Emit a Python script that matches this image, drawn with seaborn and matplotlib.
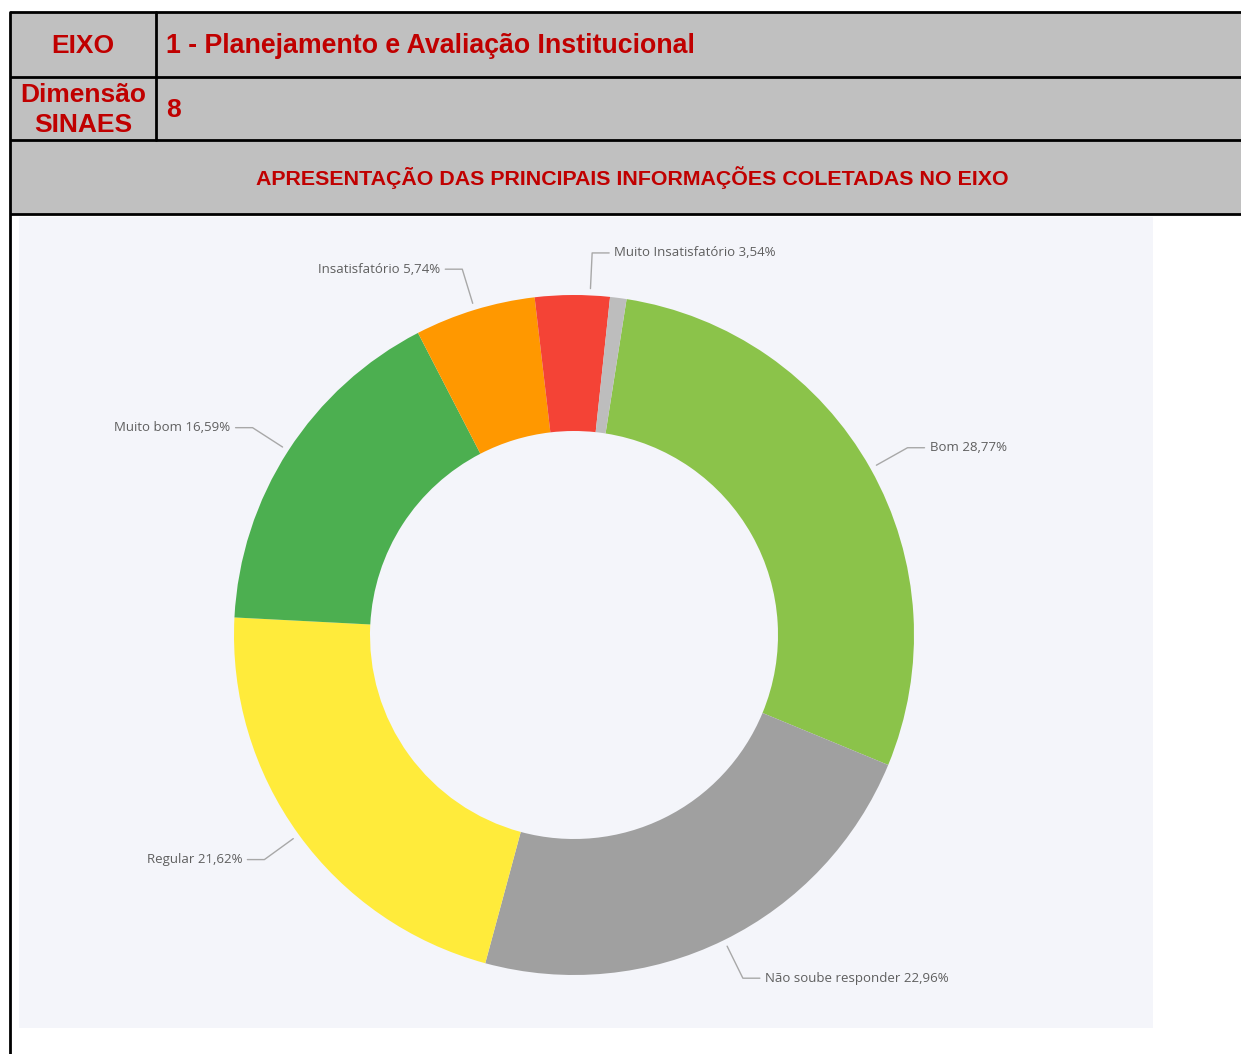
import numpy as np
import matplotlib
matplotlib.use("Agg")
import matplotlib.pyplot as plt
from matplotlib.patches import Rectangle
import seaborn as sns

# ---- data ----
categories = ["Bom", "Não soube responder", "Regular", "Muito bom",
              "Insatisfatório", "Muito Insatisfatório", "Outros"]
values = [28.77, 22.96, 21.62, 16.59, 5.74, 3.54, 0.78]
show_label = [True, True, True, True, True, True, False]
colors = ["#8BC34A", "#A0A0A0", "#FFEB3B", "#4CAF50", "#FF9800", "#F44336", "#BDBDBD"]

header_eixo = "EIXO"
header_eixo_val = "1 - Planejamento e Avaliação Institucional"
header_dim = "Dimensão\nSINAES"
header_dim_val = "8"
header_title = "APRESENTAÇÃO DAS PRINCIPAIS INFORMAÇÕES COLETADAS NO EIXO"

sns.set_theme(style="white")
plt.rcParams['font.family'] = ['Liberation Sans', 'DejaVu Sans']

W, H = 1241, 1054
fig = plt.figure(figsize=(W / 100, H / 100), dpi=100)
fig.patch.set_facecolor("white")

# background layout axes in pixel coordinates
bg = fig.add_axes([0, 0, 1, 1])
bg.set_xlim(0, W)
bg.set_ylim(H, 0)
bg.axis("off")

gray = "#C0C0C0"
red = "#C00000"
bg.add_patch(Rectangle((10, 12), W, 202, facecolor=gray, edgecolor="none"))
# chart panel
px0, px1, py0, py1 = 19, 1153, 217, 1028
bg.add_patch(Rectangle((px0, py0), px1 - px0, py1 - py0, facecolor="#F4F5FA",
                       edgecolor="none"))
lw = 2.0
for y in (12, 77, 140, 214):
    bg.plot([10, W], [y, y], color="black", lw=lw, solid_capstyle="butt")
bg.plot([10, 10], [12, H], color="black", lw=lw)
bg.plot([156, 156], [12, 140], color="black", lw=lw)

bg.text(83, 46, header_eixo, ha="center", va="center", color=red,
        fontsize=19, fontweight="bold")
bg.text(166, 46, header_eixo_val, ha="left", va="center", color=red,
        fontsize=19.3, fontweight="bold")
bg.text(83, 110, header_dim, ha="center", va="center", color=red,
        fontsize=19, fontweight="bold", linespacing=1.27)
bg.text(166, 110, header_dim_val, ha="left", va="center", color=red,
        fontsize=19, fontweight="bold")
bg.text(632, 178, header_title, ha="center", va="center", color=red,
        fontsize=15.4, fontweight="bold")

# ---- donut chart ----
R = 340.0
cx, cy = 574, 635
ax = fig.add_axes([px0 / W, 1 - py1 / H, (px1 - px0) / W, (py1 - py0) / H])
start = 90 - 8.9
wedges, _ = ax.pie(values, colors=colors, startangle=start, counterclock=False,
                   radius=1.0, wedgeprops=dict(width=0.4, edgecolor="none"))
ax.set_aspect("auto")
ax.set_xlim((px0 - cx) / R, (px1 - cx) / R)
ax.set_ylim(-(py1 - cy) / R, (cy - py0) / R)
ax.axis("off")

label_font = ['Open Sans', 'DejaVu Sans']
line_col = "#A8A8A8"
text_col = "#5F5F5F"
angle_nudge = {5: 3.0}
for i, (w, cat, v, show) in enumerate(zip(wedges, categories, values, show_label)):
    if not show:
        continue
    ang = (w.theta1 + w.theta2) / 2 - angle_nudge.get(i, 0.0)
    a = np.deg2rad(ang)
    x0, y0 = 1.02 * np.cos(a), 1.02 * np.sin(a)
    x1, y1 = 1.125 * np.cos(a), 1.125 * np.sin(a)
    side = 1 if np.cos(a) >= -0.01 else -1
    if i == 5:
        side = 1
    x2 = x1 + side * 0.05
    ax.plot([x0, x1, x2], [y0, y1, y1], color=line_col, lw=1.0)
    lab = f"{cat} {v:.2f}".replace(".", ",") + "%"
    ax.text(x2 + side * 0.015, y1, lab, ha="left" if side > 0 else "right",
            va="center", fontsize=9.5, color=text_col, family=label_font)

fig.savefig("out.png", dpi=100)
